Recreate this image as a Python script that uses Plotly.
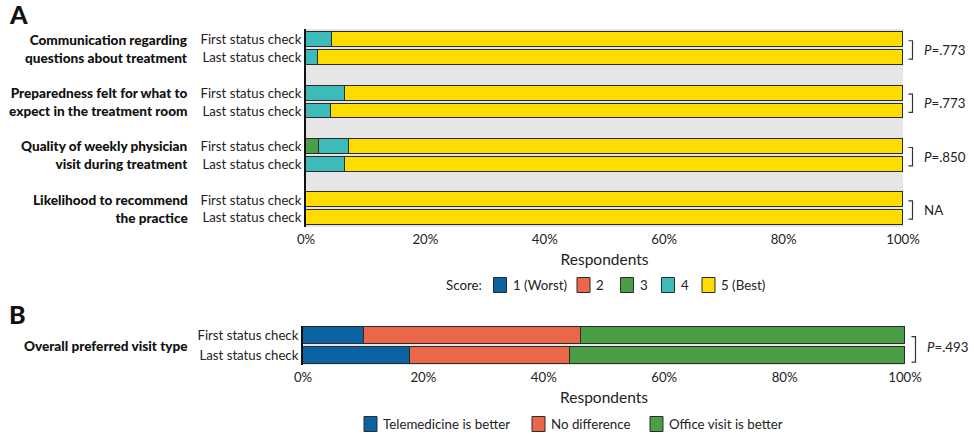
import plotly.graph_objects as go

# ---- Panel A data: satisfaction scores (% of respondents) ----
questions = [
    "Communication regarding<br>questions about treatment",
    "Preparedness felt for what to<br>expect in the treatment room",
    "Quality of weekly physician<br>visit during treatment",
    "Likelihood to recommend<br>the practice",
]
check_labels = ["First status check", "Last status check"]
score_names = ["1 (Worst)", "2", "3", "4", "5 (Best)"]
score_colors = ["#0b63a3", "#ec6748", "#4a9e46", "#3dbbbb", "#fedc00"]

# one value per row: (Q1 first, Q1 last, Q2 first, Q2 last, ...)
score_1 = [None, None, None, None, None, None, None, None]
score_2 = [None, None, None, None, None, None, None, None]
score_3 = [None, None, None, None, 2.2, None, None, None]
score_4 = [4.4, 2.0, 6.5, 4.2, 5.0, 6.6, None, None]
score_5 = [95.6, 98.0, 93.5, 95.8, 92.8, 93.4, 100.0, 100.0]
p_values_a = ["<i>P</i>=.773", "<i>P</i>=.773", "<i>P</i>=.850", "NA"]

# ---- Panel B data: preferred visit type (% of respondents) ----
visit_names = ["Telemedicine is better", "No difference", "Office visit is better"]
visit_colors = ["#0b63a3", "#ec6748", "#4a9e46"]
telemedicine = [10.2, 17.7]
no_difference = [36.0, 26.7]
office_visit = [53.8, 55.6]
p_value_b = "<i>P</i>=.493"

x_ticks = [0, 20, 40, 60, 80, 100]
x_tick_text = ["0%", "20%", "40%", "60%", "80%", "100%"]

FONT = "Lato"
TXT = "#222"
OUTLINE = "#2b2b2b"
W, H = 974, 441


def px_x(p):
    return p / W


def px_y(p):
    return 1 - p / H


# row positions: two bars per question, an empty slot between questions
row_pos = [3 * (i // 2) + (i % 2) for i in range(8)]
row_text = [check_labels[i % 2] for i in range(8)]

fig = go.Figure()

for name, color, vals in zip(score_names, score_colors,
                             [score_1, score_2, score_3, score_4, score_5]):
    fig.add_trace(go.Bar(
        x=vals, y=row_pos, orientation="h", name=name,
        marker=dict(color=color, line=dict(color=OUTLINE, width=1)),
        width=0.84, xaxis="x", yaxis="y", showlegend=False,
        hoverinfo="skip",
    ))

for name, color, vals in zip(visit_names, visit_colors,
                             [telemedicine, no_difference, office_visit]):
    fig.add_trace(go.Bar(
        x=vals, y=[0, 1], orientation="h", name=name,
        marker=dict(color=color, line=dict(color=OUTLINE, width=1)),
        width=0.82, xaxis="x2", yaxis="y2", showlegend=False,
        hoverinfo="skip",
    ))

tick_font = dict(family=FONT, size=13.2, color=TXT)
xaxis_common = dict(
    range=[0, 100], tickmode="array", tickvals=x_ticks, ticktext=x_tick_text,
    showgrid=False, zeroline=False, showline=False, ticks="",
    tickfont=tick_font, fixedrange=True, automargin=False,
    ticklabelstandoff=3,
    title=dict(text="Respondents", font=dict(family=FONT, size=15.5, color=TXT),
               standoff=7),
)
yaxis_common = dict(
    showgrid=False, zeroline=False, showline=True, linecolor="#111",
    linewidth=2, ticks="", tickfont=tick_font, fixedrange=True,
    automargin=False,
)

fig.update_layout(
    width=W, height=H,
    margin=dict(l=0, r=0, t=0, b=0, autoexpand=False),
    paper_bgcolor="white",
    plot_bgcolor="#e6e6e6",
    barmode="stack",
    bargap=0,
    showlegend=False,
    font=dict(family=FONT, color=TXT),
    xaxis=dict(domain=[px_x(306), px_x(903)], anchor="y", **xaxis_common),
    yaxis=dict(domain=[px_y(227), px_y(29)], anchor="x",
               range=[10.52, -0.61], tickvals=row_pos, ticktext=row_text,
               **yaxis_common),
    xaxis2=dict(domain=[px_x(303), px_x(905)], anchor="y2", **xaxis_common),
    yaxis2=dict(domain=[px_y(365), px_y(326)], anchor="x2",
                range=[1.44, -0.44], tickvals=[0, 1], ticktext=check_labels,
                **yaxis_common),
)

annotations = []
shapes = []


def paper_text(text, x, y, size, anchor="left", weight=None):
    f = dict(family=FONT, size=size, color=TXT)
    if weight:
        f["weight"] = weight
        f["color"] = "#111"
    return dict(text=text, x=px_x(x), y=px_y(y), xref="paper", yref="paper",
                xanchor=anchor, yanchor="middle", showarrow=False, font=f)


# panel letters
annotations.append(paper_text("A", 7, 14, 25, weight=900))
annotations.append(paper_text("B", 7, 314, 25, weight=900))

# question labels, p-values and brackets for panel A
for g, (q, p) in enumerate(zip(questions, p_values_a)):
    annotations.append(dict(
        text=q, x=px_x(190), y=3 * g + 0.5, xref="paper", yref="y",
        xanchor="right", yanchor="middle", align="right", showarrow=False,
        font=dict(family=FONT, size=13.6, color="#111", weight=900),
    ))
    annotations.append(dict(
        text=p, x=px_x(922), y=3 * g + 0.57, xref="paper", yref="y",
        xanchor="left", yanchor="middle", showarrow=False,
        font=dict(family=FONT, size=13.3, color=TXT),
    ))
    y0, y1 = 3 * g + 0.05, 3 * g + 1.08
    shapes.append(dict(
        type="path", xref="paper", yref="y",
        path=f"M {px_x(908.5)},{y0} L {px_x(912.5)},{y0} L {px_x(912.5)},{y1} L {px_x(908.5)},{y1}",
        line=dict(color="#333", width=1.2),
    ))

# panel B label, p-value and bracket
annotations.append(dict(
    text="Overall preferred visit type", x=px_x(190), y=0.5, xref="paper",
    yref="y2", xanchor="right", yanchor="middle", showarrow=False,
    font=dict(family=FONT, size=13.6, color="#111", weight=900),
))
annotations.append(dict(
    text=p_value_b, x=px_x(925), y=0.58, xref="paper", yref="y2",
    xanchor="left", yanchor="middle", showarrow=False,
    font=dict(family=FONT, size=13.3, color=TXT),
))
shapes.append(dict(
    type="path", xref="paper", yref="y2",
    path=f"M {px_x(911.5)},0.07 L {px_x(915.5)},0.07 L {px_x(915.5)},1.3 L {px_x(911.5)},1.3",
    line=dict(color="#333", width=1.2),
))


# legends: colour swatch followed by its label
def legend_row(names, colors, swatch_left, y_mid):
    for name, color, sx in zip(names, colors, swatch_left):
        shapes.append(dict(
            type="rect", xref="paper", yref="paper",
            x0=px_x(sx), x1=px_x(sx + 13), y0=px_y(y_mid + 7.5), y1=px_y(y_mid - 7.5),
            fillcolor=color, line=dict(color=OUTLINE, width=1),
        ))
        annotations.append(paper_text(name, sx + 17, y_mid, 13.3))


annotations.append(paper_text("Score:", 444, 285, 13.3))
legend_row(score_names, score_colors, [493.5, 577, 620.5, 661.5, 702], 285)
legend_row(visit_names, visit_colors, [364, 532, 650], 424)

fig.update_layout(annotations=annotations, shapes=shapes)

fig.write_html("out.html")
